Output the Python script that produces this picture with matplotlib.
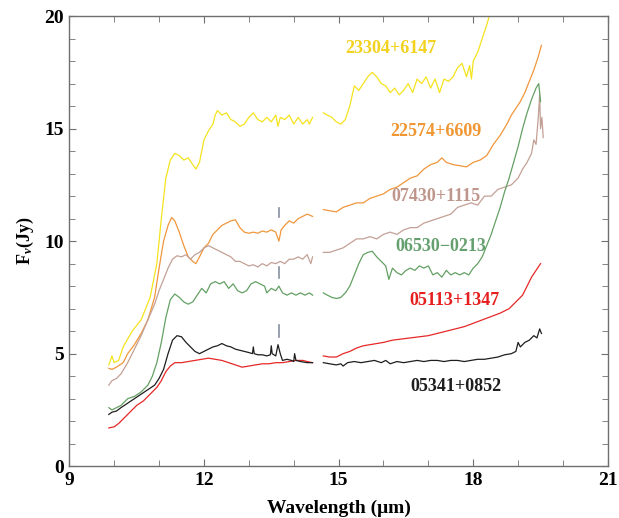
import matplotlib
matplotlib.use("Agg")
import matplotlib.pyplot as plt
from matplotlib.ticker import MultipleLocator

plt.rcParams['font.family'] = ['Liberation Serif', 'DejaVu Serif']
plt.rcParams['font.weight'] = 'bold'
plt.rcParams['mathtext.fontset'] = 'custom'
plt.rcParams['mathtext.rm'] = 'Liberation Serif:bold'
plt.rcParams['mathtext.it'] = 'Liberation Serif:bold:italic'

# spectra: each object has two segments (gap around 14.5 um)
yellow_x1 = [9.88, 9.95, 10.0, 10.1, 10.2, 10.4, 10.6, 10.8, 10.95, 11.05, 11.15, 11.25, 11.35, 11.45, 11.55,
             11.65, 11.75, 11.82, 11.9, 11.95, 12.0, 12.1, 12.2, 12.25, 12.3, 12.4, 12.5, 12.6, 12.7, 12.8,
             12.9, 13.0, 13.1, 13.2, 13.3, 13.4, 13.5, 13.6, 13.65, 13.7, 13.8, 13.9, 14.0, 14.1, 14.2,
             14.3, 14.35, 14.42]
yellow_y1 = [4.5, 4.9, 4.6, 4.7, 5.3, 6.0, 6.5, 7.5, 9.0, 11.0, 12.8, 13.6, 13.9, 13.8, 13.6,
             13.7, 13.4, 13.2, 13.5, 14.0, 14.5, 14.9, 15.2, 15.6, 15.8, 15.6, 15.7, 15.4, 15.3, 15.1,
             15.2, 15.5, 15.7, 15.4, 15.3, 15.5, 15.3, 15.6, 15.1, 15.5, 15.4, 15.6, 15.2, 15.5, 15.2,
             15.4, 15.2, 15.5]
yellow_x2 = [14.66, 14.75, 14.85, 14.95, 15.05, 15.15, 15.25, 15.35, 15.45, 15.55, 15.65, 15.75, 15.85, 15.95,
             16.05, 16.15, 16.25, 16.35, 16.45, 16.55, 16.65, 16.75, 16.85, 16.95, 17.05, 17.15, 17.25,
             17.35, 17.45, 17.55, 17.65, 17.75, 17.85, 17.92, 17.96, 18.0, 18.1, 18.2, 18.3, 18.4, 18.5]
yellow_y2 = [15.7, 15.6, 15.5, 15.3, 15.2, 15.4, 16.0, 16.9, 16.7, 17.0, 17.3, 17.5, 17.3, 17.0,
             16.9, 16.6, 16.8, 16.5, 16.7, 17.0, 16.6, 17.2, 17.0, 17.3, 16.8, 17.2, 16.6,
             17.2, 17.1, 17.3, 17.7, 17.9, 17.3, 17.8, 17.2, 18.0, 18.4, 19.0, 19.6, 20.3, 21.0]

orange_x1 = [9.88, 9.95, 10.05, 10.2, 10.3, 10.45, 10.6, 10.75, 10.9, 11.0, 11.1, 11.2, 11.28, 11.35, 11.45,
             11.55, 11.65, 11.75, 11.82, 11.9, 12.0, 12.1, 12.2, 12.3, 12.4, 12.5, 12.6, 12.7, 12.8, 12.9,
             13.0, 13.1, 13.2, 13.3, 13.4, 13.5, 13.6, 13.67, 13.72, 13.8, 13.9, 14.0, 14.1, 14.2, 14.3, 14.42]
orange_y1 = [4.35, 4.3, 4.4, 4.6, 5.0, 5.4, 5.9, 6.5, 7.5, 8.8, 10.0, 10.7, 11.05, 10.9, 10.4,
             9.8, 9.3, 9.1, 9.0, 9.3, 9.7, 9.9, 10.3, 10.5, 10.7, 10.8, 10.9, 10.95, 10.6, 10.4,
             10.35, 10.4, 10.35, 10.45, 10.4, 10.5, 10.4, 10.0, 10.5, 10.7, 10.9, 10.8, 11.0, 11.1, 11.2, 11.1]
orange_x2 = [14.66, 14.8, 14.95, 15.1, 15.25, 15.4, 15.55, 15.7, 15.85, 16.0, 16.15, 16.3, 16.45, 16.6,
             16.75, 16.9, 17.05, 17.2, 17.3, 17.4, 17.55, 17.7, 17.85, 18.0, 18.15, 18.3, 18.45, 18.6,
             18.75, 18.85, 18.95, 19.05, 19.15, 19.25, 19.35, 19.45, 19.52]
orange_y2 = [11.4, 11.35, 11.3, 11.5, 11.6, 11.7, 11.7, 11.9, 12.0, 12.1, 12.3, 12.4, 12.6, 12.8,
             12.9, 13.2, 13.4, 13.5, 13.7, 13.5, 13.4, 13.35, 13.3, 13.5, 13.6, 13.8, 14.3, 14.7,
             15.2, 15.6, 15.9, 16.2, 16.6, 17.1, 17.6, 18.2, 18.7]

brown_x1 = [9.88, 9.95, 10.05, 10.15, 10.3, 10.45, 10.6, 10.75, 10.9, 11.0, 11.1, 11.2, 11.3, 11.4, 11.5,
            11.6, 11.7, 11.8, 11.9, 12.0, 12.1, 12.2, 12.3, 12.4, 12.5, 12.6, 12.7, 12.8, 12.9, 13.0,
            13.1, 13.2, 13.3, 13.4, 13.5, 13.6, 13.7, 13.8, 13.9, 14.0, 14.1, 14.2, 14.3, 14.38, 14.42]
brown_y1 = [3.6, 3.8, 3.9, 4.1, 4.6, 5.2, 5.8, 6.5, 7.2, 7.8, 8.3, 8.8, 9.2, 9.35, 9.3,
            9.4, 9.2, 9.4, 9.5, 9.7, 9.8, 9.7, 9.6, 9.5, 9.4, 9.3, 9.1, 9.1, 9.0, 8.9,
            8.95, 8.85, 9.0, 8.9, 9.05, 9.0, 9.1, 9.0, 9.2, 9.2, 9.3, 9.2, 9.4, 9.0, 9.3]
brown_x2 = [14.66, 14.8, 14.95, 15.1, 15.25, 15.4, 15.55, 15.7, 15.85, 16.0, 16.15, 16.3, 16.45, 16.6,
            16.75, 16.9, 17.05, 17.2, 17.35, 17.5, 17.65, 17.8, 17.95, 18.1, 18.25, 18.4, 18.55, 18.7,
            18.85, 19.0, 19.1, 19.2, 19.3, 19.35, 19.4, 19.45, 19.48, 19.5, 19.53, 19.56]
brown_y2 = [9.5, 9.5, 9.6, 9.7, 9.9, 10.1, 10.1, 10.2, 10.1, 10.3, 10.4, 10.3, 10.5, 10.6,
            10.6, 10.8, 10.9, 11.0, 11.1, 11.2, 11.5, 11.6, 11.7, 11.6, 12.0, 12.0, 12.3, 12.4,
            12.5, 12.8, 13.2, 13.5, 13.9, 14.5, 14.3, 15.5, 16.5, 15.0, 15.5, 14.6]

green_x1 = [9.88, 9.95, 10.05, 10.15, 10.3, 10.45, 10.6, 10.75, 10.85, 10.95, 11.05, 11.15, 11.25, 11.35,
            11.45, 11.55, 11.65, 11.75, 11.85, 11.95, 12.05, 12.15, 12.25, 12.35, 12.45, 12.55, 12.65,
            12.75, 12.85, 12.95, 13.05, 13.15, 13.25, 13.35, 13.4, 13.5, 13.6, 13.67, 13.75, 13.85,
            13.95, 14.05, 14.15, 14.25, 14.35, 14.42]
green_y1 = [2.6, 2.5, 2.6, 2.7, 3.0, 3.1, 3.3, 3.6, 4.0, 4.6, 5.5, 6.6, 7.4, 7.65,
            7.5, 7.3, 7.2, 7.3, 7.6, 7.9, 7.7, 8.1, 8.2, 8.1, 8.2, 7.9, 8.1,
            7.8, 7.7, 7.8, 8.1, 8.2, 8.1, 8.0, 7.7, 7.9, 7.8, 8.0, 7.7, 7.6,
            7.7, 7.6, 7.7, 7.6, 7.7, 7.6]
green_x2 = [14.66, 14.75, 14.85, 14.95, 15.05, 15.15, 15.25, 15.35, 15.45, 15.55, 15.65, 15.75, 15.85,
            15.95, 16.05, 16.12, 16.2, 16.3, 16.4, 16.5, 16.6, 16.7, 16.8, 16.9, 17.0, 17.1, 17.2,
            17.3, 17.4, 17.5, 17.6, 17.7, 17.8, 17.9, 18.0, 18.1, 18.2, 18.3, 18.4, 18.5, 18.6,
            18.7, 18.8, 18.9, 19.0, 19.1, 19.2, 19.3, 19.4, 19.46, 19.5]
green_y2 = [7.7, 7.6, 7.5, 7.45, 7.5, 7.7, 8.0, 8.5, 9.0, 9.4, 9.5, 9.55, 9.3,
            9.1, 8.9, 8.3, 8.8, 8.6, 8.5, 8.7, 8.8, 8.7, 8.9, 8.8, 8.9, 8.5, 8.6,
            8.4, 8.7, 8.5, 8.6, 8.5, 8.6, 8.5, 8.8, 9.0, 9.3, 9.8, 10.3, 10.9, 11.5,
            12.2, 12.8, 13.5, 14.2, 15.0, 15.7, 16.3, 16.8, 17.0, 16.2]

red_x1 = [9.88, 10.0, 10.1, 10.2, 10.35, 10.5, 10.65, 10.8, 10.95, 11.05, 11.15, 11.25, 11.35, 11.5,
          11.65, 11.8, 11.95, 12.1, 12.25, 12.4, 12.55, 12.7, 12.85, 13.0, 13.15, 13.3, 13.45, 13.6,
          13.75, 13.9, 14.05, 14.2, 14.3, 14.42]
red_y1 = [1.7, 1.75, 1.9, 2.1, 2.4, 2.7, 2.9, 3.2, 3.5, 3.8, 4.2, 4.45, 4.6, 4.6,
          4.65, 4.7, 4.75, 4.8, 4.75, 4.7, 4.6, 4.5, 4.4, 4.45, 4.5, 4.55, 4.55, 4.6,
          4.6, 4.65, 4.7, 4.7, 4.65, 4.6]
red_x2 = [14.66, 14.8, 14.95, 15.1, 15.25, 15.4, 15.55, 15.7, 15.85, 16.0, 16.2, 16.4, 16.6, 16.8,
          17.0, 17.2, 17.4, 17.6, 17.8, 18.0, 18.2, 18.4, 18.6, 18.8, 18.95, 19.1, 19.2, 19.3, 19.4, 19.5]
red_y2 = [4.9, 4.85, 4.85, 5.0, 5.1, 5.25, 5.35, 5.4, 5.45, 5.5, 5.6, 5.65, 5.7, 5.75,
          5.8, 5.9, 6.0, 6.1, 6.2, 6.35, 6.5, 6.65, 6.8, 7.0, 7.3, 7.6, 8.0, 8.4, 8.7, 9.0]

black_x1 = [9.88, 9.95, 10.05, 10.15, 10.3, 10.45, 10.6, 10.75, 10.9, 11.0, 11.1, 11.2, 11.3, 11.4, 11.5,
            11.6, 11.7, 11.8, 11.9, 12.0, 12.1, 12.2, 12.3, 12.4, 12.5, 12.6, 12.7, 12.8, 12.9, 13.0,
            13.08, 13.1, 13.12, 13.2, 13.3, 13.4, 13.48, 13.5, 13.52, 13.6, 13.65, 13.7, 13.75, 13.85,
            13.95, 14.0, 14.02, 14.05, 14.15, 14.3, 14.42]
black_y1 = [2.3, 2.4, 2.45, 2.6, 2.8, 3.0, 3.2, 3.4, 3.6, 3.9, 4.3, 5.0, 5.6, 5.8, 5.75,
            5.5, 5.3, 5.1, 5.0, 5.1, 5.2, 5.3, 5.35, 5.45, 5.35, 5.3, 5.2, 5.15, 5.1, 5.05,
            5.0, 5.3, 5.0, 4.95, 4.95, 4.9, 4.95, 5.35, 5.0, 4.9, 5.4, 5.0, 4.7, 4.75,
            4.7, 4.65, 5.0, 4.7, 4.65, 4.6, 4.6]
black_x2 = [14.66, 14.8, 14.95, 15.05, 15.1, 15.2, 15.35, 15.5, 15.65, 15.8, 15.95, 16.05, 16.15, 16.3,
            16.45, 16.6, 16.75, 16.9, 17.05, 17.2, 17.35, 17.5, 17.65, 17.8, 17.95, 18.1, 18.25, 18.4,
            18.55, 18.7, 18.85, 18.95, 19.0, 19.05, 19.15, 19.25, 19.35, 19.42, 19.48, 19.52]
black_y2 = [4.6, 4.55, 4.5, 4.55, 4.45, 4.6, 4.65, 4.6, 4.65, 4.7, 4.6, 4.7, 4.55, 4.65,
            4.6, 4.65, 4.7, 4.65, 4.7, 4.7, 4.65, 4.7, 4.7, 4.65, 4.7, 4.75, 4.75, 4.8,
            4.85, 4.95, 5.0, 5.1, 5.5, 5.3, 5.5, 5.6, 5.8, 5.7, 6.1, 5.9]

names = ['23304+6147', '22574+6609', '07430+1115', '06530\u22120213', '05113+1347', '05341+0852']
colors = ['#f5e31e', '#f0963c', '#c3a096', '#64a064', '#e62828', '#1e1e1e']
text_colors = ['#f2d21e', '#f09632', '#be968c', '#64a06e', '#e61e1e', '#1e1e1e']
label_x = [16.16, 17.17, 17.18, 17.27, 17.58, 17.61]
label_y = [18.57, 14.86, 11.97, 9.75, 7.38, 3.52]

segments = [
    (yellow_x1, yellow_y1, yellow_x2, yellow_y2),
    (orange_x1, orange_y1, orange_x2, orange_y2),
    (brown_x1, brown_y1, brown_x2, brown_y2),
    (green_x1, green_y1, green_x2, green_y2),
    (red_x1, red_y1, red_x2, red_y2),
    (black_x1, black_y1, black_x2, black_y2),
]

# dashed marker at 13.67 um
marker_x = 13.67
marker_spans = [(11.07, 11.47), (8.36, 8.84), (5.73, 6.27)]

fig = plt.figure(figsize=(6.19, 5.18), dpi=100)
ax = fig.add_axes([0.112, 0.1, 0.87, 0.869])

for (x1, y1, x2, y2), c in zip(segments, colors):
    ax.plot(x1, y1, color=c, lw=0.9)
    ax.plot(x2, y2, color=c, lw=0.9)

for lo, hi in marker_spans:
    ax.plot([marker_x, marker_x], [lo, hi], color='#8890a0', lw=1.2)

for name, tc, lx, ly in zip(names, text_colors, label_x, label_y):
    ax.text(lx, ly, name, color=tc, fontsize=13, fontweight='bold', ha='center', va='center')

ax.set_xlim(9, 21)
ax.set_ylim(0, 20)
ax.xaxis.set_major_locator(MultipleLocator(3))
ax.xaxis.set_minor_locator(MultipleLocator(1))
ax.yaxis.set_major_locator(MultipleLocator(5))
ax.yaxis.set_minor_locator(MultipleLocator(1))
ax.tick_params(which='both', direction='in', top=True, right=True, color='#707070',
               labelsize=14, pad=4)
ax.tick_params(which='major', length=5)
ax.tick_params(which='minor', length=4)
for s in ax.spines.values():
    s.set_color('#707070')
    s.set_linewidth(1.0)
for lab in ax.get_xticklabels() + ax.get_yticklabels():
    lab.set_fontweight('bold')

ax.set_xlabel('Wavelength (\u03bcm)', fontsize=14, fontweight='bold', labelpad=8)
ax.set_ylabel(r'F$_\nu$(Jy)', fontsize=13, fontweight='bold', labelpad=6)

fig.savefig('out.png', dpi=100)
